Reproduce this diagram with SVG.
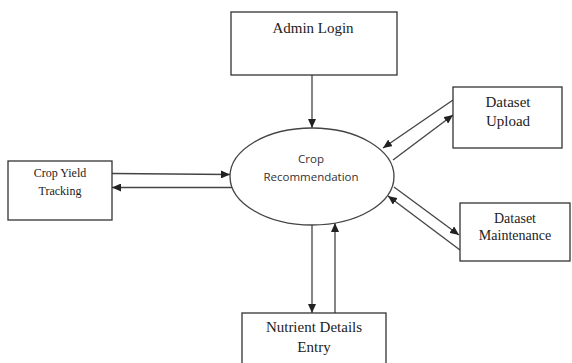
<svg xmlns="http://www.w3.org/2000/svg" width="572" height="363" viewBox="0 0 572 363">
  <style>
    .box { fill: #ffffff; stroke: #333333; stroke-width: 1.3; }
    .proc { fill: #ffffff; stroke: #444444; stroke-width: 1.3; }
    .lbl { font-family: "Liberation Serif", "Times New Roman", serif; fill: #222222; text-anchor: middle; }
    .plbl { font-family: "Open Sans", "Liberation Sans", sans-serif; fill: #333333; text-anchor: middle; font-size: 11.5px; }
    .flow line { stroke: #444444; stroke-width: 1.3; marker-end: url(#arrow); }
  </style>
  <defs>
    <marker id="arrow" markerUnits="userSpaceOnUse" markerWidth="9" markerHeight="8" viewBox="0 0 9 8" refX="9" refY="4" orient="auto">
      <path d="M0,0 L9,4 L0,8 Z" fill="#222222"/>
    </marker>
  </defs>

  <rect width="572" height="363" fill="#ffffff"/>

  <!-- connectors -->
  <g id="connectors" class="flow">
    <line x1="312" y1="75" x2="312" y2="128"/>
    <line x1="112" y1="173.5" x2="230" y2="174.5"/>
    <line x1="232" y1="187.5" x2="112" y2="187.5"/>
    <line x1="453" y1="100" x2="383" y2="148"/>
    <line x1="393" y1="160" x2="453" y2="115"/>
    <line x1="394" y1="187" x2="459" y2="235"/>
    <line x1="460" y1="250" x2="388" y2="196"/>
    <line x1="312" y1="225" x2="312" y2="313"/>
    <line x1="335" y1="313" x2="335" y2="223"/>
  </g>

  <!-- central process -->
  <g id="crop-recommendation">
    <ellipse class="proc" cx="312" cy="176.5" rx="82" ry="48.5"/>
    <text class="plbl" x="311" y="163">Crop</text>
    <text class="plbl" x="311" y="181">Recommendation</text>
  </g>

  <g id="admin-login">
    <rect class="box" x="231" y="12" width="166" height="63"/>
    <text class="lbl" x="313" y="33" font-size="15">Admin Login</text>
  </g>

  <g id="crop-yield-tracking">
    <rect class="box" x="8" y="161" width="104" height="59"/>
    <text class="lbl" x="60" y="177" font-size="12">Crop Yield</text>
    <text class="lbl" x="60" y="195" font-size="12">Tracking</text>
  </g>

  <g id="dataset-upload">
    <rect class="box" x="453" y="87" width="109" height="61"/>
    <text class="lbl" x="508" y="107" font-size="15">Dataset</text>
    <text class="lbl" x="508" y="126" font-size="15">Upload</text>
  </g>

  <g id="dataset-maintenance">
    <rect class="box" x="460" y="203" width="110" height="58"/>
    <text class="lbl" x="515" y="223" font-size="14">Dataset</text>
    <text class="lbl" x="515" y="240" font-size="14">Maintenance</text>
  </g>

  <g id="nutrient-details-entry">
    <rect class="box" x="242" y="313" width="144" height="60"/>
    <text class="lbl" x="314" y="332" font-size="15">Nutrient Details</text>
    <text class="lbl" x="314" y="352" font-size="15">Entry</text>
  </g>
</svg>
